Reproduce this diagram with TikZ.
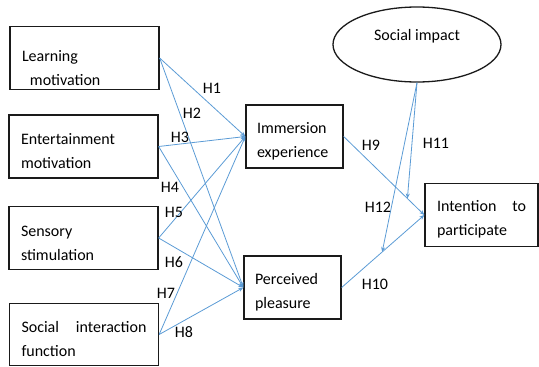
\documentclass[tikz,border=0pt]{standalone}
\usepackage{fontspec}
\setmainfont{Carlito}
\usepackage{xcolor}
\usepackage{tikz}
\usetikzlibrary{arrows.meta,shapes.geometric,calc}
\definecolor{lnblue}{HTML}{5B9BD5}
\definecolor{boxblack}{HTML}{1A1A1A}

\begin{document}
\begin{tikzpicture}[x=1pt, y=-1pt,
    txt/.style={font=\fontsize{16}{24}\selectfont},
    cbox/.style={txt, draw=boxblack, line width=1.3pt, rectangle, align=left,
                 minimum height=63pt, inner ysep=0pt, text height=20.5pt},
    wide/.style={cbox, minimum width=149pt, text width=125pt, inner xsep=12pt},
    mid/.style={cbox, minimum width=97pt, text width=75pt, inner xsep=11pt},
    hyp/.style={txt, inner sep=0pt},
    arr/.style={draw=lnblue, line width=0.8pt, -{Stealth[length=5pt,width=4pt]}}]
  \useasboundingbox (0,0) rectangle (539,367);
  % the four drivers on the left
  \node[wide, text height=32pt] (learn) at (84.5,58)
    {Learning\\\hspace*{8pt}motivation};
  \node[wide] (enter)  at (83.5,146.5) {Entertainment\\motivation};
  \node[wide] (senso)  at (83.5,238)  {Sensory\\stimulation};
  \node[wide, minimum height=62pt] (socint) at (84,334.5)
    {Social\hfill interaction\hspace*{6pt}\\function};
  % the two mediators, the outcome and the moderator
  \node[mid] (immer) at (294.5,136.5) {Immersion\\experience};
  \node[mid] (percv) at (292.5,287.5) {Perceived\\pleasure};
  \node[cbox, minimum width=113pt, text width=89pt, inner xsep=12pt] (intent)
    at (481.5,215) {Intention\hfill to\hspace*{2pt}\\participate};
  \node[txt, draw=boxblack, line width=1.3pt, ellipse, minimum width=168pt,
        minimum height=75pt, inner sep=0pt, text depth=19pt] (socimp)
    at (417,44.5) {Social impact};
  % every driver feeds both mediators
  \foreach \s in {learn,enter,senso,socint} {
    \draw[arr] (\s.east) -- (immer.west);
    \draw[arr] (\s.east) -- (percv.west);}
  \draw[arr] (immer.east) -- (intent.west);
  \draw[arr] (percv.east) -- (intent.west);
  % the moderator points onto the two paths
  \coordinate (onh9)  at ($(immer.east)!0.79!(intent.west)$);
  \coordinate (onh10) at ($(percv.east)!0.49!(intent.west)$);
  \draw[arr] (socimp.south) -- (onh9);
  \draw[arr] (socimp.south) -- (onh10);
  % path labels
  \foreach \n/\x/\y in {1/212/88, 2/192/113, 3/180/137, 4/170/187,
      5/174/212, 6/174/262, 7/166/293, 8/184/332,
      9/371/145, 10/375/284, 11/436/143, 12/378/207}
    \node[hyp] (h\n) at (\x,\y) {H\n};
\end{tikzpicture}
\end{document}
